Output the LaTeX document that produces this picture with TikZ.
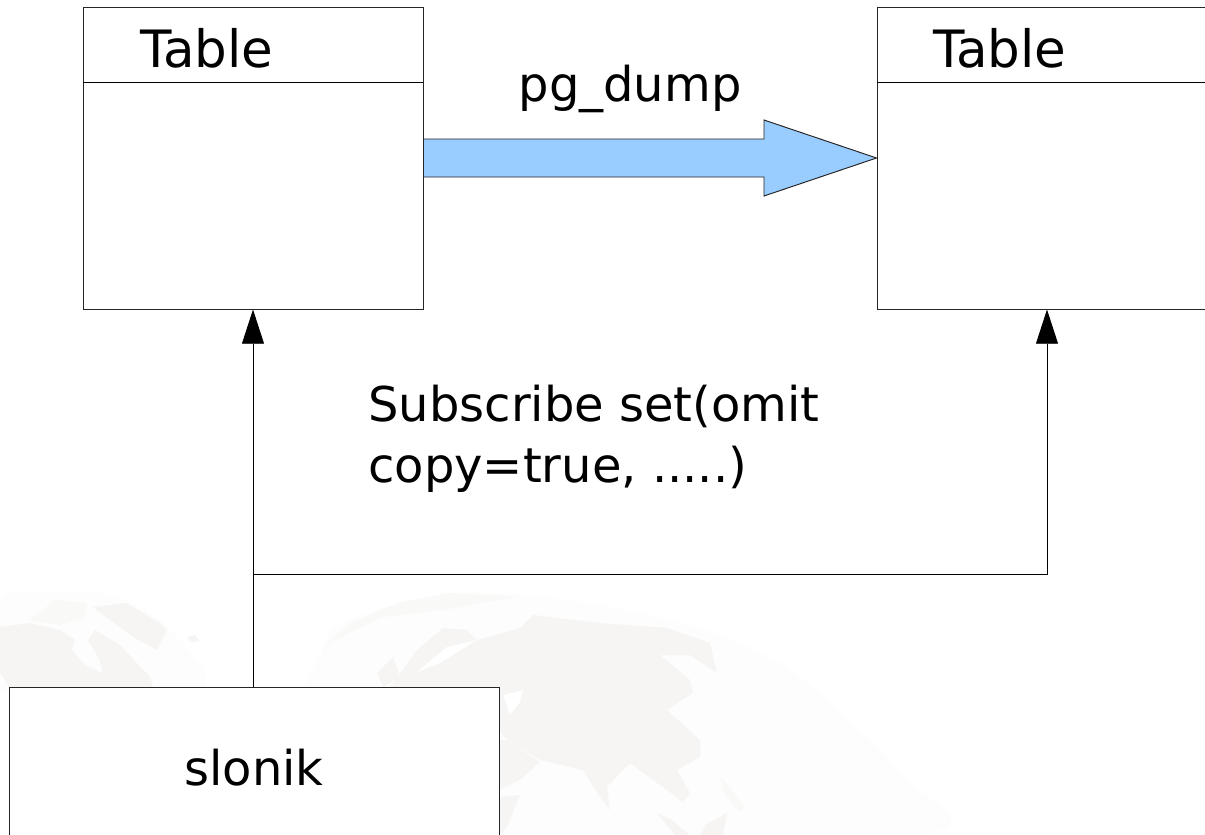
\documentclass[tikz,border=0pt]{standalone}
\usepackage{fontspec}
\setmainfont{DejaVu Sans}
\usetikzlibrary{arrows.meta}
\definecolor{arrowblue}{HTML}{99CCFF}
\definecolor{landgray}{HTML}{F6F5F4}
\definecolor{icegray}{HTML}{F9F9F8}
\definecolor{globegray}{HTML}{FDFDFD}
\tikzset{
	boxnode/.style={draw=black!85, fill=white, line width=.55pt, inner sep=0pt},
	labeltext/.style={font=\fontsize{27.3pt}{34.8pt}\selectfont, inner sep=0pt, align=left},
	titletext/.style={font=\fontsize{29.3pt}{36pt}\selectfont, inner sep=0pt},
	conn/.style={draw=black, line width=.55pt},
	connhead/.style={conn, -{Triangle[length=19.5pt,width=12.5pt]}},
}
\begin{document}
\begin{tikzpicture}[x=.02cm, y=-.02cm]
	\clip (0,0) rectangle (1205,835);
	\fill [white] (0,0) rectangle (1205,835);
	% background map
	\fill [globegray] plot [smooth cycle] coordinates {(324,647) (371,613) (463,593) (587,603) (695,627) (780,663) (849,720) (903,777) (915,835) (300,835)};
	\fill [globegray] plot [smooth cycle] coordinates {(0,600) (50,592) (110,595) (165,625) (200,690) (0,690)};
	\fill [icegray] (323,647) -- (350,623) -- (400,602) -- (450,593) -- (517,597) -- (443,610) -- (383,617) -- (345,635) -- cycle;
	\fill [landgray] (377,673) -- (393,657) -- (400,677) -- (383,687) -- cycle;
	\fill [landgray] (390,687) -- (417,650) -- (443,628) -- (467,630) -- (477,640) -- (520,628) -- (533,615) -- (600,623) -- (667,628) -- (710,643)
		-- (717,673) -- (690,655) -- (660,655) -- (690,680) -- (693,693) -- (667,710) -- (700,740) -- (700,757) -- (677,770) -- (690,793) -- (683,802)
		-- (663,787) -- (653,780) -- (630,763) -- (607,787) -- (610,810) -- (600,797) -- (583,770) -- (540,760) -- (507,740) -- (499,730) -- (499,687) -- cycle;
	\fill [white] (447,647) -- (477,640) -- (440,663) -- (417,672) -- cycle;
	\fill [white] (503,695) -- (523,690) -- (520,702) -- (510,715) -- cycle;
	\fill [landgray] (507,740) -- (540,762) -- (520,780) -- (499,790) -- (499,740) -- cycle;
	\fill [landgray] (499,797) -- (520,795) -- (507,827) -- (499,835) -- cycle;
	\fill [landgray] (700,835) -- (705,825) -- (727,813) -- (723,835) -- cycle;
	\fill [landgray] (657,813) -- (672,820) -- (690,835) -- (675,835) -- cycle;
	\fill [icegray] (720,777) -- (728,785) -- (745,808) -- (740,812) -- (725,795) -- cycle;
	\fill [landgray] (0,627) -- (30,623) -- (60,630) -- (75,640) -- (72,650) -- (85,665) -- (102,673) -- (100,660) -- (88,640) -- (95,630) -- (120,645) -- (150,677) -- (153,687) -- (9,687) -- (0,672) -- cycle;
	\fill [landgray] (93,607) -- (127,603) -- (160,623) -- (167,630) -- (157,650) -- (133,637) -- (110,620) -- cycle;
	\fill [icegray] (30,620) -- (55,600) -- (87,603) -- (85,618) -- (60,625) -- cycle;
	\fill [landgray] (187,637) -- (195,635) -- (200,641) -- (192,642) -- cycle;
	% tables
	\node [boxnode, minimum width=340*.02cm, minimum height=302*.02cm] (tableleft) at (253,158) {};
	\node [boxnode, minimum width=340*.02cm, minimum height=302*.02cm] (tableright) at (1047,158) {};
	\coordinate (dividerleft) at (83,82);
	\coordinate (dividerright) at (877,82);
	\draw [conn] (dividerleft) -- (dividerleft -| tableleft.east);
	\draw [conn] (dividerright) -- (dividerright -| tableright.east);
	\node [titletext] (titleleft) at (207,48) {Table};
	\node [titletext] (titleright) at (1000,48) {Table};
	% copy arrow
	\draw [draw=black!85, fill=arrowblue, line width=.55pt] (tableleft.east |- 0,139) -- (764,139) -- (764,120) -- (tableright.west) -- (764,196) -- (764,177) -- (tableleft.east |- 0,177) -- cycle;
	\node [labeltext] (dumplabel) at (630,89) {pg\_dump};
	% slonik
	\node [boxnode, minimum width=490*.02cm, minimum height=200*.02cm] (slonik) at (254,787) {};
	\node [labeltext] (slonikname) at (254,768) {slonik};
	\coordinate (branch) at (253,574);
	\draw [connhead] (slonik.north -| tableleft.south) -- (tableleft.south);
	\draw [connhead] (branch) -| (tableright.south);
	\node [labeltext, anchor=north west] (subscribe) at (368,385) {Subscribe set(omit\\copy=true, .....)};
\end{tikzpicture}
\end{document}
